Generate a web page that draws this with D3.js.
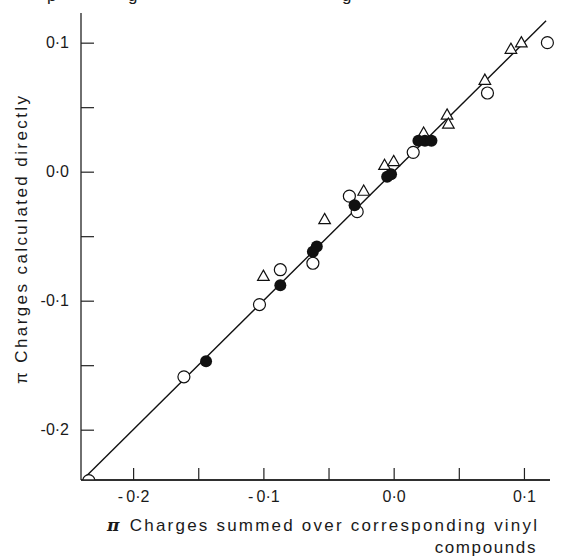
<!DOCTYPE html>
<html>
<head>
<meta charset="utf-8">
<script src="https://cdn.jsdelivr.net/npm/d3@7"></script>
<style>
  html, body { margin: 0; padding: 0; background: #fff; }
  svg { display: block; }
  text { font-family: "Liberation Sans", Arial, sans-serif; fill: #1a1a1a; }
</style>
</head>
<body>
<svg width="567" height="559"></svg>
<script>
// values
var openX   = [-0.234, -0.161, -0.103, -0.087, -0.062, -0.034, -0.028, 0.015, 0.072, 0.118];
var openY   = [-0.2395, -0.159, -0.103, -0.076, -0.071, -0.019, -0.031, 0.015, 0.061, 0.100];
var filledX = [-0.144, -0.087, -0.062, -0.059, -0.030, -0.005, -0.002, 0.019, 0.024, 0.029];
var filledY = [-0.147, -0.088, -0.062, -0.058, -0.026, -0.004, -0.002, 0.024, 0.024, 0.024];
var triX    = [-0.100, -0.053, -0.023, -0.007, 0.000, 0.023, 0.041, 0.042, 0.070, 0.090, 0.098];
var triY    = [-0.081, -0.037, -0.015, 0.005, 0.008, 0.030, 0.044, 0.037, 0.071, 0.095, 0.100];
var fitLine = [-0.237, 0.117];
var xTicks = [-0.2, -0.15, -0.1, -0.05, 0, 0.05, 0.1];
var yTicks = [-0.2, -0.15, -0.1, -0.05, 0, 0.05, 0.1];
var xTitle = "Charges summed over corresponding vinyl";
var xTitle2 = "compounds";
var yTitle = "Charges calculated directly";

var svg = d3.select("svg"),
    m = {left: 81, right: 550, top: 13, bottom: 480};

var x = d3.scaleLinear().domain([-0.24, 0.12]).range([m.left, m.right]);
var y = d3.scaleLinear().domain([-0.239, 0.123]).range([m.bottom, m.top]);

function fmt(d) {
  if (Math.abs(Math.round(d * 10) - d * 10) > 1e-6) return "";
  var s = Math.abs(d).toFixed(1).replace(".", "\u00b7");
  return (d < 0 ? "-" : "") + s;
}

// bits of the caption line above, cut off by the page edge
svg.append("text").attr("y", 1).attr("font-size", 17)
  .selectAll("tspan").data([[47, "p"], [128, "g"], [342, "g"]])
  .enter().append("tspan").attr("x", function(d) { return d[0]; }).text(function(d) { return d[1]; });

svg.append("clipPath").attr("id", "plot")
  .append("rect").attr("x", m.left).attr("y", m.top - 10)
  .attr("width", m.right - m.left + 20).attr("height", m.bottom - m.top + 10);

var gx = svg.append("g")
  .attr("transform", "translate(0," + m.bottom + ")")
  .call(d3.axisBottom(x).tickValues(xTicks).tickSize(-12).tickPadding(10)
    .tickFormat(function(d) { return fmt(d).replace("-", "-\u2009"); }));
var gy = svg.append("g")
  .attr("transform", "translate(" + m.left + ",0)")
  .call(d3.axisLeft(y).tickValues(yTicks).tickSize(-13).tickPadding(12).tickFormat(fmt));

[gx, gy].forEach(function(g) {
  g.select(".domain").remove();
  g.selectAll("line").attr("stroke", "#222").attr("stroke-width", 1.2);
  g.selectAll("text").attr("font-size", 16).attr("font-family", "Liberation Sans, Arial, sans-serif").attr("fill", "#1a1a1a");
});
gx.selectAll("text").attr("dy", "0.75em");

svg.append("line").attr("x1", m.left).attr("x2", m.left).attr("y1", m.top).attr("y2", m.bottom)
  .attr("stroke", "#222").attr("stroke-width", 1.3);
svg.append("line").attr("x1", m.left).attr("x2", m.right).attr("y1", m.bottom).attr("y2", m.bottom)
  .attr("stroke", "#222").attr("stroke-width", 1.3);

var plot = svg.append("g").attr("clip-path", "url(#plot)");

plot.append("line")
  .attr("x1", x(fitLine[0])).attr("y1", y(fitLine[0]))
  .attr("x2", x(fitLine[1])).attr("y2", y(fitLine[1]))
  .attr("stroke", "#111").attr("stroke-width", 1.4);

plot.selectAll("circle.open").data(openX).enter().append("circle")
  .attr("class", "open")
  .attr("cx", function(d) { return x(d); })
  .attr("cy", function(d, i) { return y(openY[i]); })
  .attr("r", 6).attr("fill", "#fff").attr("stroke", "#111").attr("stroke-width", 1.2);

plot.selectAll("path.tri").data(triX).enter().append("path")
  .attr("class", "tri")
  .attr("transform", function(d, i) { return "translate(" + x(d) + "," + y(triY[i]) + ")"; })
  .attr("d", "M0,-6L5.8,4.2L-5.8,4.2Z")
  .attr("fill", "#fff").attr("stroke", "#111").attr("stroke-width", 1.2);

plot.selectAll("circle.filled").data(filledX).enter().append("circle")
  .attr("class", "filled")
  .attr("cx", function(d) { return x(d); })
  .attr("cy", function(d, i) { return y(filledY[i]); })
  .attr("r", 6).attr("fill", "#111");

// redraw the bottom axis line over the clipped marker
svg.append("line").attr("x1", m.left).attr("x2", m.right).attr("y1", m.bottom).attr("y2", m.bottom)
  .attr("stroke", "#222").attr("stroke-width", 1.3);

// axis titles
var xt = svg.append("text").attr("x", 107).attr("y", 531).attr("font-size", 17)
  .attr("textLength", 430).attr("lengthAdjust", "spacing");
xt.append("tspan").attr("font-family", "DejaVu Serif, serif").attr("font-weight", "bold").attr("font-style", "italic").text("\u03c0 ");
xt.append("tspan").text(xTitle);
svg.append("text").attr("x", 537).attr("y", 553).attr("font-size", 17).attr("text-anchor", "end")
  .attr("letter-spacing", 1.6).text(xTitle2);

var yt = svg.append("text").attr("transform", "translate(27,240) rotate(-90)")
  .attr("text-anchor", "middle").attr("font-size", 17)
  .attr("textLength", 288).attr("lengthAdjust", "spacing");
yt.append("tspan").text("\u03c0 " + yTitle);
</script>
</body>
</html>
